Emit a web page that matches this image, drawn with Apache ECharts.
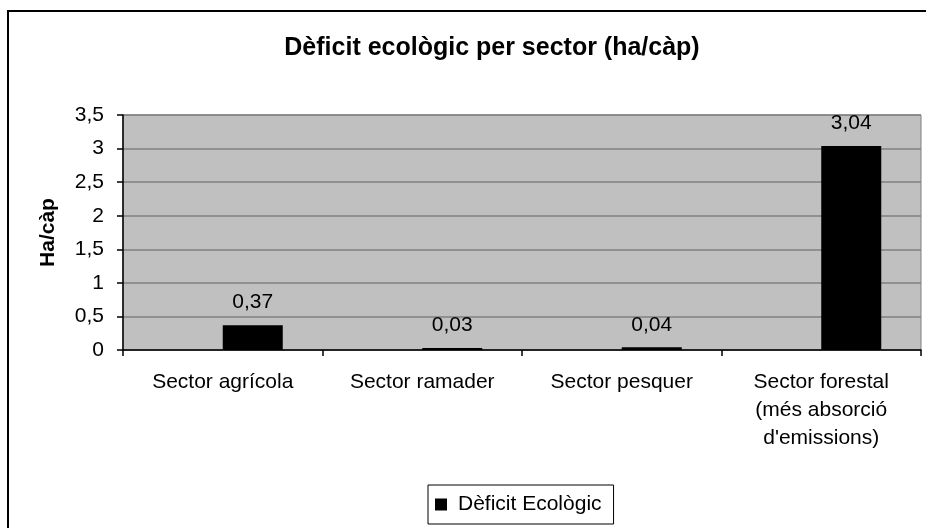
<!DOCTYPE html>
<html>
<head>
<meta charset="utf-8">
<script src="https://cdn.jsdelivr.net/npm/echarts@6/dist/echarts.min.js"></script>
<style>
html,body{margin:0;padding:0;background:#fff;}
#chart{width:926px;height:528px;}
</style>
</head>
<body>
<div id="chart"></div>
<script>
var categories = ["Sector agrícola", "Sector ramader", "Sector pesquer", "Sector forestal\n(més absorció\nd'emissions)"];
var deficitValues = [0.37, 0.03, 0.04, 3.04];
var emptyValues = [null, null, null, null];
var yTicks = [0, 0.5, 1, 1.5, 2, 2.5, 3, 3.5];
var seriesName = "Dèficit Ecològic";
var titleText = "Dèficit ecològic per sector (ha/càp)";
var yAxisName = "Ha/càp";

var FONT = "'Liberation Sans', Arial, sans-serif";
function comma(v){ return String(v).replace('.', ','); }

var chart = echarts.init(document.getElementById('chart'), null, {renderer:'canvas'});
chart.setOption({
  animation: false,
  backgroundColor: '#ffffff',
  graphic: [{
    type: 'rect', silent: true, z: 100,
    shape: {x: 8, y: 11, width: 940, height: 540},
    style: {fill: 'none', stroke: '#000', lineWidth: 2}
  }],
  title: {
    text: titleText,
    left: 487, top: 31, textAlign: 'center',
    textStyle: {fontFamily: FONT, fontSize: 25, fontWeight: 'bold', color: '#000'}
  },
  legend: {
    data: [seriesName],
    left: 428, top: 485,
    padding: [9, 12, 9, 7],
    borderColor: '#000', borderWidth: 1,
    icon: 'rect', itemWidth: 12, itemHeight: 12,
    textStyle: {fontFamily: FONT, fontSize: 21, color: '#000', padding: [0, 0, 0, 6]}
  },
  grid: {
    left: 123, right: 5, top: 115, bottom: 178,
    show: true, backgroundColor: '#c0c0c0', borderColor: '#808080', borderWidth: 1
  },
  xAxis: {
    type: 'category',
    data: categories,
    axisLine: {lineStyle: {color: '#000', width: 1.5}},
    axisTick: {show: true, length: 6, alignWithLabel: false, lineStyle: {color: '#000', width: 1.5}},
    axisLabel: {fontFamily: FONT, fontSize: 21, color: '#000', margin: 18, lineHeight: 28, interval: 0, align: 'center'}
  },
  yAxis: {
    type: 'value',
    min: 0, max: 3.5, interval: 0.5,
    name: yAxisName,
    nameLocation: 'middle', nameGap: 64, nameRotate: 90,
    nameTextStyle: {fontFamily: FONT, fontSize: 21, fontWeight: 'bold', color: '#000'},
    axisLine: {show: true, lineStyle: {color: '#000', width: 1.5}},
    axisTick: {show: true, length: 6, lineStyle: {color: '#000', width: 1.5}},
    axisLabel: {fontFamily: FONT, fontSize: 21, color: '#000', margin: 19,
      formatter: function(v){ return yTicks.indexOf(v) >= 0 ? comma(v) : ''; }},
    splitLine: {show: true, lineStyle: {color: '#808080', width: 1.5}}
  },
  series: [
    {
      type: 'bar', name: '', data: emptyValues,
      barWidth: 60, barGap: '0%', silent: true
    },
    {
      type: 'bar', name: seriesName, data: deficitValues,
      barWidth: 60, barGap: '0%',
      itemStyle: {color: '#000'},
      label: {
        show: true, position: 'top', distance: 12,
        fontFamily: FONT, fontSize: 21, color: '#000',
        formatter: function(p){ return comma(p.value); }
      }
    }
  ]
});
</script>
</body>
</html>
